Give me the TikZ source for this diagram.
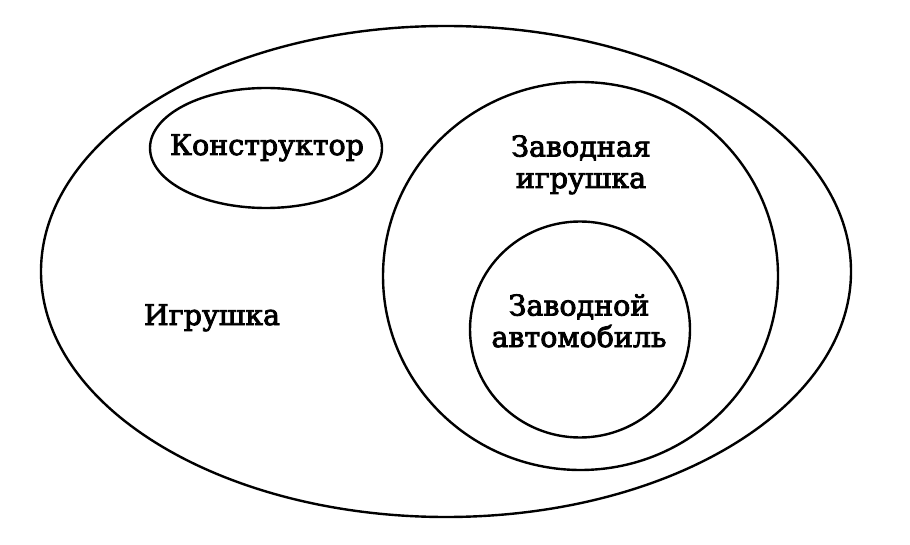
\documentclass[tikz,border=0pt]{standalone}
\usepackage{fontspec}
\setmainfont{DejaVu Serif}[FakeBold=3]
\begin{document}
\begin{tikzpicture}[x=1pt,y=-1pt,
  set/.style={draw=black,line width=2.4pt},
  lbl/.style={font=\fontsize{28.5}{31.5}\selectfont,align=center,inner sep=0pt,anchor=base}]
\useasboundingbox (0,0) rectangle (910,545);
\fill[white] (0,0) rectangle (910,545);
\draw[set] (446,271.5) ellipse [x radius=405, y radius=245.5];
\draw[set] (266,148) ellipse [x radius=116, y radius=60];
\draw[set] (580.5,276) ellipse [x radius=197.5, y radius=194];
\draw[set] (580,329.5) ellipse [x radius=110, y radius=108];
\node[lbl] (konstr) at (267,155) {Конструктор};
\node[lbl] (zavigr) at (581,188) {Заводная\\игрушка};
\node[lbl] (igr) at (212,325) {Игрушка};
\node[lbl] (zavavto) at (579,347) {Заводной\\автомобиль};
\end{tikzpicture}
\end{document}
